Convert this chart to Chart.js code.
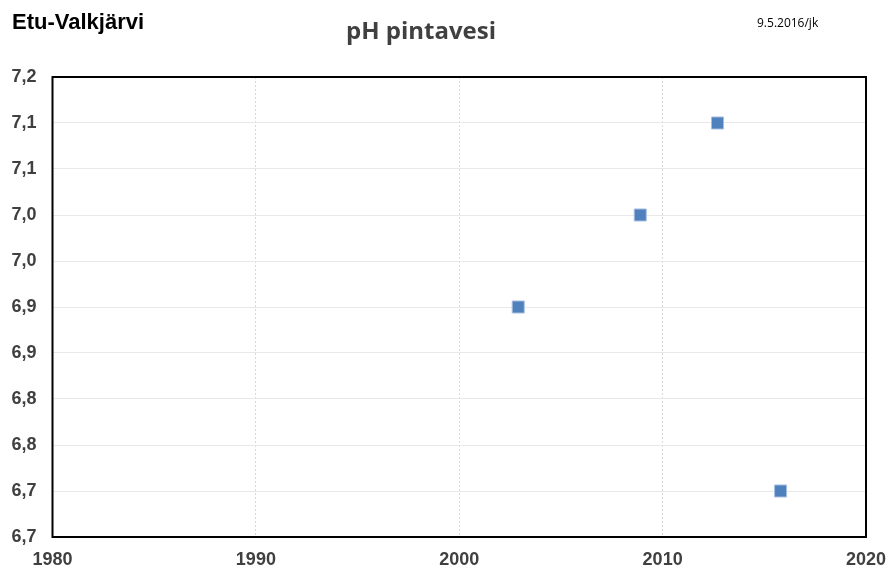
<!DOCTYPE html>
<html>
<head>
<meta charset="utf-8">
<script src="https://cdn.jsdelivr.net/npm/chart.js@4/dist/chart.umd.min.js"></script>
<style>
  html, body { margin: 0; padding: 0; background: #fff; }
  #wrap { width: 896px; height: 582px; position: relative; }
</style>
</head>
<body>
<div id="wrap"><canvas id="ph-chart"></canvas></div>
<script>
/* pH pintavesi - Etu-Valkjärvi */

// data
const years = [2002.9, 2008.9, 2012.7, 2015.8];
const phValues = [6.95, 7.05, 7.15, 6.75];

// tick labels as printed on the original (one decimal, Finnish comma)
const yTickLabels = ["6,7", "6,7", "6,8", "6,8", "6,9", "6,9", "7,0", "7,0", "7,1", "7,1", "7,2"];
const xTickLabels = ["1980", "1990", "2000", "2010", "2020"];

const lakeName = "Etu-Valkjärvi";
const chartTitle = "pH pintavesi";
const dateNote = "9.5.2016/jk";

const labelFont = { family: "'Liberation Sans', Arial, sans-serif", size: 18, weight: 'bold' };

/***** header texts + plot frame *****/
const frameAndTexts = {
    id: 'frameAndTexts',
    beforeDatasetsDraw(chart) {
        const { ctx, chartArea } = chart;
        ctx.save();
        ctx.strokeStyle = '#000';
        ctx.lineWidth = 2;
        ctx.strokeRect(chartArea.left, chartArea.top, chartArea.right - chartArea.left, chartArea.bottom - chartArea.top);
        ctx.restore();
    },
    afterDraw(chart) {
        const ctx = chart.ctx;
        ctx.save();
        ctx.textBaseline = 'alphabetic';
        ctx.fillStyle = '#000';
        ctx.font = "bold 22px 'Liberation Sans', Arial, sans-serif";
        ctx.textAlign = 'left';
        ctx.fillText(lakeName, 12, 29);

        ctx.fillStyle = '#404040';
        ctx.font = "bold 24px 'Open Sans', sans-serif";
        ctx.textAlign = 'center';
        ctx.fillText(chartTitle, 421, 39);

        ctx.fillStyle = '#000';
        ctx.font = "12px 'Open Sans', sans-serif";
        ctx.textAlign = 'left';
        ctx.fillText(dateNote, 757, 27);
        ctx.restore();
    }
};

const phData = {
    datasets: [{
        data: years.map((y, i) => ({ x: y, y: phValues[i] })),
        pointStyle: 'rect',
        pointRadius: 8.5,
        pointHoverRadius: 8.5,
        backgroundColor: '#4F81BD',
        borderColor: '#A7BFE0',
        borderWidth: 1,
        showLine: false
    }]
};

const phOptions = {
    responsive: false,
    animation: false,
    layout: {
        padding: { top: 77, right: 30, left: 0, bottom: 0 }
    },
    scales: {
        x: {
            type: 'linear',
            min: 1980,
            max: 2020,
            afterBuildTicks: (axis) => {
                axis.ticks = xTickLabels.map(v => ({ value: Number(v) }));
            },
            afterFit: (axis) => {
                axis.height = 45;
                axis.paddingRight = 0;
                axis.paddingLeft = 0;
            },
            ticks: {
                callback: (v, i) => xTickLabels[i],
                color: '#404040',
                font: labelFont,
                padding: 12,
                maxRotation: 0
            },
            grid: {
                color: '#d9d9d9',
                lineWidth: 1,
                drawTicks: false
            },
            border: { display: false, dash: [2, 2] }
        },
        y: {
            min: 6.7,
            max: 7.2,
            afterBuildTicks: (axis) => {
                axis.ticks = yTickLabels.map((l, i) => ({ value: 6.7 + i * 0.05 }));
            },
            afterFit: (axis) => { axis.width = 52.5; },
            ticks: {
                callback: (v, i) => yTickLabels[i],
                color: '#404040',
                font: labelFont,
                padding: 16
            },
            grid: {
                color: '#e8e8e8',
                lineWidth: 1,
                drawTicks: false
            },
            border: { display: false }
        }
    },
    plugins: {
        legend: { display: false },
        tooltip: { enabled: false }
    }
};

const phCanvas = document.getElementById("ph-chart");
phCanvas.width = 896;
phCanvas.height = 582;

let phChart = new Chart(phCanvas, {
    type: 'scatter',
    data: phData,
    options: phOptions,
    plugins: [frameAndTexts]
});
</script>
</body>
</html>
